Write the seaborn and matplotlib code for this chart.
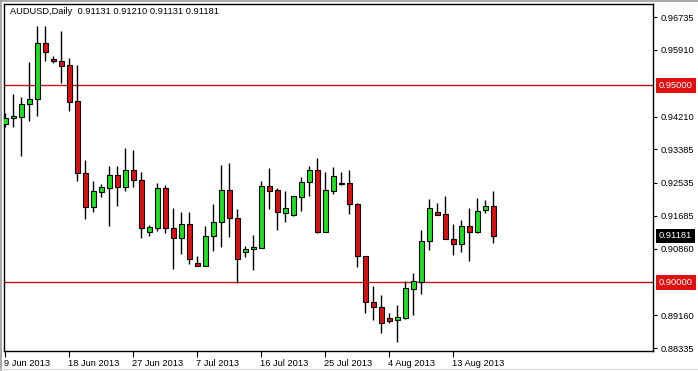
import numpy as np
import pandas as pd
import matplotlib
matplotlib.use("Agg")
import matplotlib.pyplot as plt
import matplotlib.transforms as mtransforms
from matplotlib.lines import Line2D
import seaborn as sns

# ---------------- data ----------------
opens = [0.94012, 0.94164, 0.94205, 0.94520, 0.94646, 0.96068, 0.95669, 0.95618, 0.95517, 0.94603,
         0.92768, 0.91921, 0.92301, 0.92408, 0.92720, 0.92428, 0.92852, 0.92598, 0.91286, 0.91393,
         0.92395, 0.91375, 0.91139, 0.91477, 0.90487, 0.90408, 0.91165, 0.91527, 0.92345, 0.91626,
         0.90764, 0.90840, 0.90885, 0.92446, 0.92345, 0.91768, 0.91715, 0.92175, 0.92540, 0.92852,
         0.91286, 0.92332, 0.92515, 0.92522, 0.91982, 0.90682, 0.89495, 0.89370, 0.89089, 0.89038,
         0.89109, 0.89845, 0.90015, 0.91043, 0.91781, 0.91728, 0.91093, 0.90967, 0.91431, 0.91286,
         0.91845, 0.91939]
highs = [0.94291, 0.94776, 0.94705, 0.95598, 0.96513, 0.96507, 0.95740, 0.96380, 0.95689, 0.95517,
         0.93101, 0.92573, 0.92492, 0.92959, 0.92954, 0.93418, 0.93360, 0.92809, 0.91464, 0.92530,
         0.92471, 0.91880, 0.91779, 0.91779, 0.90670, 0.91431, 0.91989, 0.92979, 0.93030, 0.91862,
         0.90929, 0.91203, 0.92573, 0.92908, 0.92388, 0.92324, 0.92192, 0.92669, 0.92954, 0.93157,
         0.92809, 0.92936, 0.92801, 0.92852, 0.92027, 0.90682, 0.89908, 0.89680, 0.89218, 0.89426,
         0.90035, 0.90233, 0.91329, 0.92116, 0.92024, 0.92192, 0.91482, 0.91583, 0.91880, 0.92134,
         0.92091, 0.92319]
lows = [0.93951, 0.93951, 0.93220, 0.94096, 0.94230, 0.95623, 0.95573, 0.95052, 0.94357, 0.92573,
        0.91601, 0.91794, 0.92175, 0.91431, 0.91939, 0.92327, 0.92428, 0.91119, 0.91182, 0.91309,
        0.91258, 0.90340, 0.90713, 0.90462, 0.90408, 0.90408, 0.90804, 0.90890, 0.91159, 0.89977,
        0.90637, 0.90322, 0.90880, 0.91862, 0.91342, 0.91525, 0.91692, 0.91817, 0.92192, 0.91261,
        0.91286, 0.92243, 0.92471, 0.91736, 0.90398, 0.89231, 0.89058, 0.88708, 0.88977, 0.88479,
        0.89063, 0.89172, 0.89698, 0.90822, 0.91723, 0.91093, 0.90695, 0.90779, 0.90550, 0.91246,
        0.91768, 0.90994]
closes = [0.94164, 0.94223, 0.94520, 0.94646, 0.96068, 0.95854, 0.95606, 0.95499, 0.94585, 0.92768,
          0.91921, 0.92319, 0.92421, 0.92720, 0.92428, 0.92852, 0.92586, 0.91393, 0.91406, 0.92395,
          0.91373, 0.91139, 0.91477, 0.90586, 0.90408, 0.91172, 0.91527, 0.92345, 0.91626, 0.90586,
          0.90847, 0.90898, 0.92446, 0.92332, 0.91779, 0.91883, 0.92192, 0.92543, 0.92852, 0.91286,
          0.92345, 0.92695, 0.92507, 0.91982, 0.90682, 0.89495, 0.89363, 0.88982, 0.89028, 0.89114,
          0.89850, 0.90030, 0.91043, 0.91880, 0.91723, 0.91093, 0.90967, 0.91431, 0.91286, 0.91812,
          0.91939, 0.91181]

date_labels = ["9 Jun 2013", "18 Jun 2013", "27 Jun 2013", "7 Jul 2013",
               "16 Jul 2013", "25 Jul 2013", "4 Aug 2013", "13 Aug 2013"]
date_label_bars = [0, 8, 16, 24, 32, 40, 48, 56]

price_ticks = [0.96735, 0.95910, 0.94210, 0.93385, 0.92535, 0.91685, 0.90860, 0.89160, 0.88335]
level_lines = [0.95000, 0.90000]
last_price = 0.91181
title_text = "AUDUSD,Daily  0.91131 0.91210 0.91131 0.91181"

# ---------------- figure ----------------
sns.set_theme(style="white")
plt.rcParams['font.family'] = ['Liberation Sans', 'DejaVu Sans']
FS = 6.7

df = pd.DataFrame({"open": opens, "high": highs, "low": lows, "close": closes})
df["bar"] = np.arange(len(df))
df["up"] = df["close"] >= df["open"]
df["body_lo"] = df[["open", "close"]].min(axis=1)
df["body_h"] = (df["close"] - df["open"]).abs()

W, H = 698, 371
fig = plt.figure(figsize=(W / 100, H / 100), dpi=100)
fig.patch.set_facecolor("white")
ax = fig.add_axes([4 / W, (H - 351) / H, 649 / W, 347 / H])
ax.set_facecolor("white")

ax.set_xlim(-0.16, 80.96)
ax.set_ylim(0.88259, 0.97065)

for lv in level_lines:
    ax.axhline(lv, color="#cc1020", lw=1.0, zorder=1)

ax.vlines(df["bar"], df["low"], df["high"], color="black", lw=1.0, zorder=2)
green = "#1fe01f"
red = "#dd1111"
colors = [green if u else red for u in df["up"]]
heights = np.maximum(df["body_h"].values, 0.00012)
ax.bar(df["bar"], heights, bottom=df["body_lo"], width=0.58,
       color=colors, edgecolor="black", linewidth=0.8, zorder=3)

# axes styling
for s in ax.spines.values():
    s.set_color("black")
    s.set_linewidth(1.0)

ax.yaxis.tick_right()
ax.set_yticks(price_ticks)
ax.set_yticklabels([f"{v:.5f}" for v in price_ticks])
ax.tick_params(axis="y", which="both", right=True, left=False, length=3, width=0.8,
               color="black", pad=2.5, labelsize=FS, labelcolor="black")

ax.set_xticks(date_label_bars)
ax.set_xticklabels(date_labels)
ax.tick_params(axis="x", which="both", bottom=True, length=4, width=0.8,
               color="black", pad=1.5, labelsize=FS, labelcolor="black")
offset = mtransforms.ScaledTranslation(-1 / 100, 0, fig.dpi_scale_trans)
for lbl in ax.get_xticklabels():
    lbl.set_horizontalalignment("left")
    lbl.set_transform(lbl.get_transform() + offset)

ax.grid(False)

# price tags on the right
blend = mtransforms.blended_transform_factory(ax.transAxes, ax.transData)
for lv in level_lines:
    ax.text(1.0 + 6 / 649, lv, f"{lv:.5f}", transform=blend, ha="left", va="center",
            fontsize=FS, color="white", clip_on=False,
            bbox=dict(boxstyle="square,pad=0.3", facecolor="#e01010", edgecolor="none"))
ax.text(1.0 + 6 / 649, last_price, f"{last_price:.5f}", transform=blend, ha="left", va="center",
        fontsize=FS, color="white", clip_on=False,
        bbox=dict(boxstyle="square,pad=0.3", facecolor="black", edgecolor="none"))

ax.text(6 / 649, 1 - 8 / 347, title_text, transform=ax.transAxes, ha="left", va="center",
        fontsize=FS, color="black")

# outer window frame lines
fig.add_artist(Line2D([0, 1], [1 - 0.5 / H, 1 - 0.5 / H], color="#9a9a9a", lw=1.2))
fig.add_artist(Line2D([0.5 / W, 0.5 / W], [0, 1], color="#9a9a9a", lw=1.2))
fig.add_artist(Line2D([0, 1], [2 / H, 2 / H], color="#dcdcdc", lw=1.0))

fig.savefig("out.png", dpi=100, facecolor="white")
